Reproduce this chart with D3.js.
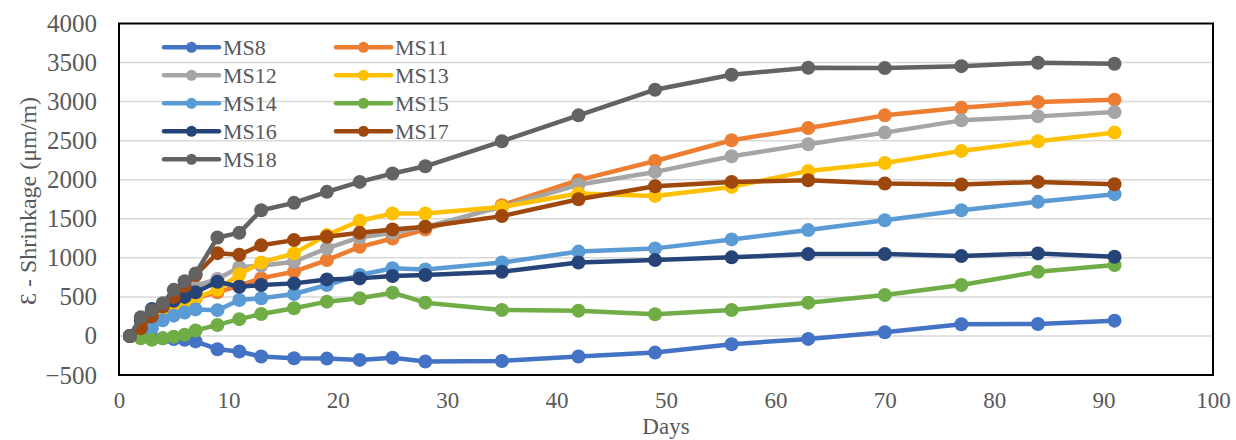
<!DOCTYPE html>
<html><head><meta charset="utf-8">
<script src="https://cdn.jsdelivr.net/npm/d3@7/dist/d3.min.js"></script>
<style>body{margin:0;background:#fff;}svg text{font-family:"Liberation Serif","Times New Roman","DejaVu Serif",serif !important;}</style>
</head><body><svg id="c" width="1236" height="440"></svg>
<script>
const days = [1,2,3,4,5,6,7,9,11,13,16,19,22,25,28,35,42,49,56,63,70,77,84,91];
const seriesNames = ["MS8","MS11","MS12","MS13","MS14","MS15","MS16","MS17","MS18"];
const MS8  = [0,-10,-20,-30,-40,-50,-70,-170,-200,-264,-285,-290,-307,-280,-328,-320,-264,-213,-106,-38,47,150,153,196];
const MS11 = [0,90,200,290,370,430,480,560,640,740,822,971,1141,1248,1363,1674,1994,2240,2505,2662,2824,2922,2995,3025];
const MS12 = [0,120,250,350,450,550,640,730,880,900,950,1121,1261,1320,1397,1652,1935,2100,2300,2454,2603,2760,2811,2866];
const MS13 = [0,100,210,300,380,430,490,590,790,940,1057,1291,1474,1568,1568,1652,1823,1793,1908,2113,2215,2369,2492,2603];
const MS14 = [0,50,100,200,260,300,340,330,460,482,537,652,780,866,850,940,1080,1121,1236,1355,1482,1610,1717,1815];
const MS15 = [0,-30,-50,-30,-10,15,70,141,215,280,354,439,482,554,426,332,324,277,332,426,524,652,822,907];
const MS16 = [0,200,345,380,450,500,560,694,630,652,673,724,737,767,780,822,940,971,1006,1048,1048,1022,1057,1014];
const MS17 = [0,100,250,380,500,640,780,1060,1040,1160,1227,1269,1320,1363,1397,1534,1750,1917,1972,1994,1951,1938,1972,1942];
const MS18 = [0,240,330,420,590,700,800,1260,1320,1610,1704,1845,1972,2079,2172,2492,2824,3152,3344,3434,3429,3454,3498,3485];
const seriesValues = [MS8,MS11,MS12,MS13,MS14,MS15,MS16,MS17,MS18];
const colors = ["#4472C4","#ED7D31","#A5A5A5","#FFC000","#5B9BD5","#70AD47","#264478","#9E480E","#636363"];
const xTicks = [0,10,20,30,40,50,60,70,80,90,100];
const yTicks = [-500,0,500,1000,1500,2000,2500,3000,3500,4000];

const svg = d3.select("#c");
const L=119, R=1213, T=23.5, B=375;
const x = d3.scaleLinear().domain([0,100]).range([L,R]);
const y = d3.scaleLinear().domain([-500,4000]).range([B,T]);
const txt = "#595959";
const ff = "Liberation Serif";

// gridlines
svg.append("g").selectAll("line").data(yTicks.filter(d=>d>-500&&d<4000)).join("line")
  .attr("x1",L).attr("x2",R).attr("y1",d=>y(d)).attr("y2",d=>y(d))
  .attr("stroke","#d9d9d9").attr("stroke-width",1.5);

// axes
const yAxis = d3.axisLeft(y).tickValues(yTicks).tickFormat(d3.format("d")).tickSize(0).tickPadding(22);
const gy = svg.append("g").attr("transform",`translate(${L},0)`).call(yAxis).attr("font-family",ff);
gy.select(".domain").remove();
gy.selectAll("text").attr("fill",txt).attr("font-size",25);
const xAxis = d3.axisBottom(x).tickValues(xTicks).tickFormat(d3.format("d")).tickSize(0).tickPadding(17);
const gx = svg.append("g").attr("transform",`translate(0,${B})`).call(xAxis).attr("font-family",ff);
gx.select(".domain").remove();
gx.selectAll("text").attr("fill",txt).attr("font-size",23);

// series
const line = d3.line().x((d,i)=>x(days[i])).y(d=>y(d));
seriesValues.forEach((vals,k)=>{
  const g = svg.append("g");
  g.append("path").datum(vals).attr("d",line).attr("fill","none")
   .attr("stroke",colors[k]).attr("stroke-width",4.5).attr("stroke-linejoin","round");
  g.selectAll("circle").data(vals).join("circle")
   .attr("cx",(d,i)=>x(days[i])).attr("cy",d=>y(d)).attr("r",7).attr("fill",colors[k]);
});

// frame
svg.append("rect").attr("x",L).attr("y",T).attr("width",R-L).attr("height",B-T)
  .attr("fill","none").attr("stroke","#000").attr("stroke-width",2);

// legend
const lg = svg.append("g").attr("font-family",ff);
seriesNames.forEach((n,k)=>{
  const col = k%2, row = Math.floor(k/2);
  const lx = col===0 ? 164 : 336, ly = 47.3 + row*28;
  lg.append("line").attr("x1",lx).attr("x2",lx+55).attr("y1",ly).attr("y2",ly)
    .attr("stroke",colors[k]).attr("stroke-width",4.5).attr("stroke-linecap","round");
  lg.append("circle").attr("cx",lx+27.5).attr("cy",ly).attr("r",5.5).attr("fill",colors[k]);
  lg.append("text").attr("x",lx+59).attr("y",ly+8).attr("fill",txt).attr("font-size",22).text(n);
});

// titles
svg.append("text").attr("x",x(50)).attr("y",434).attr("text-anchor","middle")
  .attr("fill",txt).attr("font-size",23).attr("font-family",ff).text("Days");
svg.append("text").attr("transform",`translate(36,201) rotate(-90)`).attr("text-anchor","middle")
  .attr("fill",txt).attr("font-size",24).attr("font-family",ff).text("Ɛ - Shrinkage (μm/m)");
</script></body></html>
